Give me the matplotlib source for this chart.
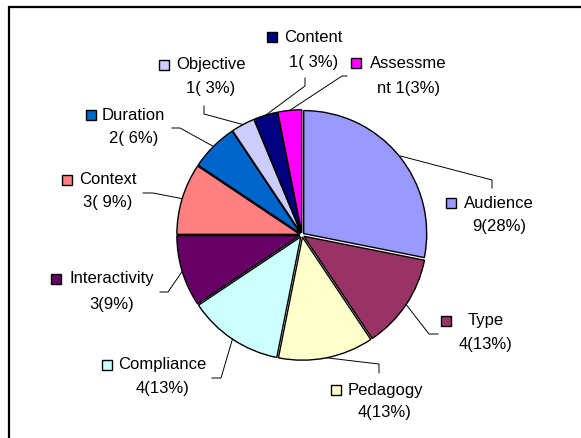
import numpy as np
import matplotlib
matplotlib.use("Agg")
import matplotlib.pyplot as plt
from matplotlib.patches import Rectangle

plt.rcParams['font.family'] = ['Liberation Sans', 'DejaVu Sans']

# data
names = ['Audience', 'Type', 'Pedagogy', 'Compliance', 'Interactivity',
         'Context', 'Duration', 'Objective', 'Content', 'Assessment']
counts = [9, 4, 4, 4, 3, 3, 2, 1, 1, 1]
line1 = ['Audience', 'Type', 'Pedagogy', 'Compliance', 'Interactivity',
         'Context', 'Duration', 'Objective', 'Content', 'Assessme']
line2 = ['9(28%)', '4(13%)', '4(13%)', '4(13%)', '3(9%)',
         '3( 9%)', '2( 6%)', '1( 3%)', '1( 3%)', 'nt 1(3%)']
colors = ['#9999FF', '#993366', '#FFFFCC', '#CCFFFF', '#660066',
          '#FF8080', '#0066CC', '#CCCCFF', '#000080', '#FF00FF']

# layout in pixels of the 581x438 picture
W, H = 581, 438
cx, cy, R = 302, 235, 123
# text centre x, line1 y, line2 y, square centre x
lab_pos = [(499, 203, 227, 451), (486, 321, 345, 446), (385, 390, 412, 336),
           (162.5, 365, 389, 107), (111.5, 279, 304, 55.5), (107.5, 180, 202, 67.5),
           (133.5, 115, 139, 91.5), (211, 65, 89, 163.5), (313.5, 37, 62, 272),
           (408.5, 63, 88, 355.5)]
# elbow and end of leader lines
leaders = [((492, 180), (492, 188)), ((429, 334), (438, 334)), ((379, 364), (379, 373)),
           ((221, 378), (212, 378)), ((168, 292), (160, 292)), ((153, 193), (143, 193)),
           ((180, 128), (172, 128)), ((204, 114), (204, 106)), ((305, 86), (305, 78)),
           ((342, 76), (347, 76))]


def px(x, y):
    return (x - cx) / R, (cy - y) / R


fig = plt.figure(figsize=(W / 100, H / 100), dpi=100)
ax = fig.add_axes([0, 0, 1, 1])

expl = [0.018] * len(counts)
wedges, _ = ax.pie(counts, colors=colors, startangle=90, counterclock=False,
                   explode=expl, wedgeprops=dict(edgecolor='black', linewidth=1.0))
ax.set_aspect('auto')
ax.set_xlim(-cx / R, (W - cx) / R)
ax.set_ylim((cy - H) / R, cy / R)
ax.axis('off')

total = sum(counts)
cum = np.cumsum([0] + counts)
sq = 10 / R
for i in range(len(counts)):
    mid = 90 - (cum[i] + counts[i] / 2) / total * 360
    a = np.deg2rad(mid)
    r0 = 1 + expl[i]
    x0, y0 = r0 * np.cos(a), r0 * np.sin(a)
    (ex, ey), (fx, fy) = leaders[i]
    p1 = px(ex, ey)
    p2 = px(fx, fy)
    ax.plot([x0, p1[0], p2[0]], [y0, p1[1], p2[1]], color='black', lw=0.7)

    tx, y1, y2, sx = lab_pos[i]
    ax.text(*px(tx, y1), line1[i], ha='center', va='center', fontsize=12)
    ax.text(*px(tx, y2), line2[i], ha='center', va='center', fontsize=12)
    sxd, syd = px(sx, y1)
    ax.add_patch(Rectangle((sxd - sq / 2, syd - sq / 2), sq, sq,
                           facecolor=colors[i], edgecolor='black', lw=1.0))

# chart frame (runs off the right and bottom of the picture)
fig.add_artist(Rectangle((8.5 / W, -0.1), 1.2, (H - 7) / H + 0.1,
                         transform=fig.transFigure, fill=False,
                         edgecolor='black', lw=1.6))

fig.savefig('out.png', dpi=100)
